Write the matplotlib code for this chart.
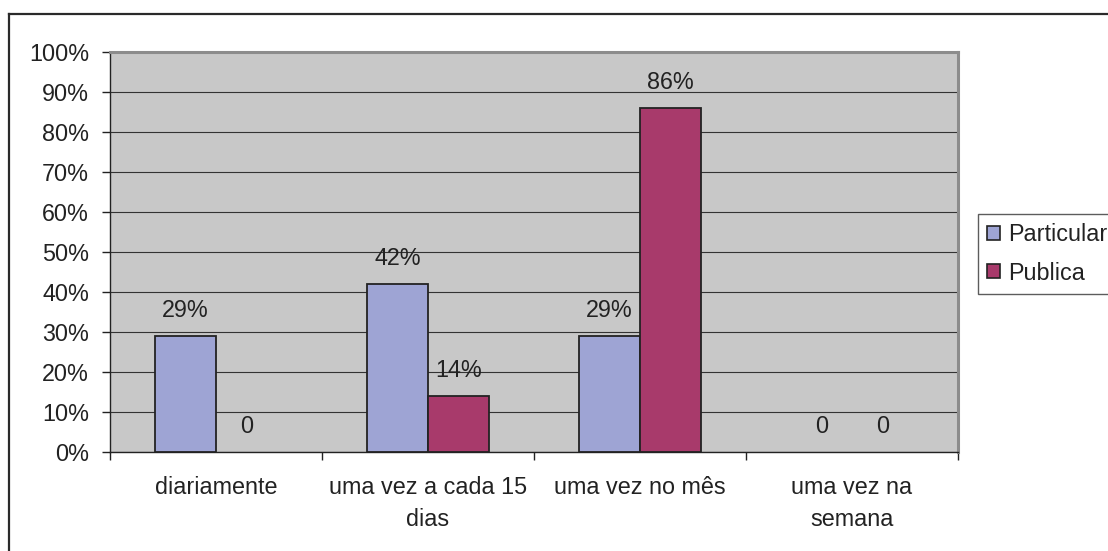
import matplotlib
matplotlib.use("Agg")
import matplotlib.pyplot as plt
import numpy as np
from matplotlib.lines import Line2D
from matplotlib.patches import Patch

plt.rcParams["font.family"] = ["Liberation Sans", "DejaVu Sans"]

# Frequency of use, share of answers per school type (%)
categories = ["diariamente", "uma vez a cada 15\ndias", "uma vez no mês", "uma vez na\nsemana"]
series_names = ["Particular", "Publica"]
particular = [29, 42, 29, 0]
publica = [0, 14, 86, 0]
y_ticks = [0, 10, 20, 30, 40, 50, 60, 70, 80, 90, 100]

_COLORS = {"Particular": "#9ea4d4", "Publica": "#a83a6b"}

W, H = 1108, 551
fig = plt.figure(figsize=(W / 100, H / 100), dpi=100)
fig.patch.set_facecolor("white")

ax = fig.add_axes([110 / W, 1 - 452 / H, 848 / W, 400 / H])
ax.set_facecolor("#c8c8c8")

x = np.arange(len(categories))
bar_w = 0.2875
fs = 16.8

for offset, name, values in ((-bar_w / 2, "Particular", particular), (bar_w / 2, "Publica", publica)):
    bars = ax.bar(x + offset, values, width=bar_w, color=_COLORS[name],
                  edgecolor="#222222", linewidth=1.3, zorder=3)
    for rect, v in zip(bars, values):
        if v == 0:
            rect.set_linewidth(0)
        ax.annotate(f"{v}%" if v else "0",
                    (rect.get_x() + rect.get_width() / 2, v),
                    xytext=(0, 18.5), textcoords="offset points",
                    ha="center", va="center", fontsize=fs, color="#222222")

ax.set_xlim(-0.5, len(categories) - 0.5)
ax.set_ylim(0, 100)
ax.set_yticks(y_ticks)
ax.set_yticklabels([f"{t}%" for t in y_ticks])
ax.yaxis.grid(True, color="#333333", linewidth=0.8, zorder=1)
ax.set_axisbelow(True)

# category labels sit at the centres, tick marks at the boundaries
ax.set_xticks(np.arange(len(categories) + 1) - 0.5)
ax.set_xticklabels([])
ax.set_xticks(x, minor=True)
ax.set_xticklabels(categories, minor=True)
ax.tick_params(axis="x", which="minor", length=0, pad=17, labelsize=fs,
               labelcolor="#222222")
ax.tick_params(axis="x", which="major", length=6, width=1, color="#222222",
               direction="out")
ax.tick_params(axis="y", length=6, width=1, color="#222222", pad=9,
               labelsize=fs, labelcolor="#222222")
for lbl in ax.get_xticklabels(minor=True):
    lbl.set_linespacing(1.5)

for side in ("left", "bottom"):
    ax.spines[side].set_color("#222222")
    ax.spines[side].set_linewidth(1)
for side in ("top", "right"):
    ax.spines[side].set_color("#8c8c8c")
    ax.spines[side].set_linewidth(2.2)

handles = [Patch(facecolor=_COLORS[n], edgecolor="#222222", linewidth=1.2) for n in series_names]
leg = fig.legend(handles, series_names, loc="upper left",
                 bbox_to_anchor=(978 / W, 1 - 213.5 / H), borderaxespad=0,
                 fontsize=fs, frameon=True, fancybox=False,
                 handlelength=0.55, handleheight=0.55, handletextpad=0.35,
                 borderpad=0.4, labelspacing=0.68)
leg.get_frame().set_edgecolor("#333333")
leg.get_frame().set_linewidth(1)
for t in leg.get_texts():
    t.set_color("#222222")

# outer chart border, running off the right and bottom edges
fig.add_artist(Line2D([9 / W, 9 / W], [0, 1 - 14 / H], transform=fig.transFigure,
                      color="#2a2a2a", linewidth=1.6))
fig.add_artist(Line2D([9 / W, 1], [1 - 14 / H, 1 - 14 / H], transform=fig.transFigure,
                      color="#2a2a2a", linewidth=1.6))

fig.savefig("out.png", dpi=100)
